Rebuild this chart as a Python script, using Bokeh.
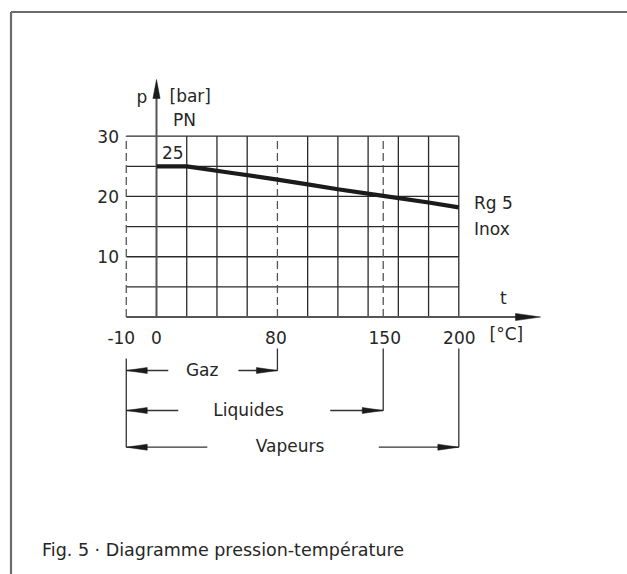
from bokeh.plotting import figure
from bokeh.models import Range1d
from bokeh.core.properties import value
from bokeh.embed import file_html
from bokeh.resources import INLINE

# ---------------- data ----------------
temp = [0, 20, 50, 80, 100, 120, 150, 180, 200]            # t [°C]
pressure = [25, 25, 23.9, 22.8, 22.0, 21.2, 20.1, 19.0, 18.2]  # p [bar]
grid_t_solid = [20, 40, 60, 100, 120, 140, 160, 180, 200]
grid_t_dashed = [-20, 80, 150]      # leftmost dashed line carries the "-10" label (axis not to scale there)
grid_p = [5, 10, 15, 20, 25, 30]
x_tick_pos = [-20, 0, 80, 150, 200]
x_tick_labels = ["-10", "0", "80", "150", "200"]
y_tick_pos = [10, 20, 30]
y_tick_labels = ["10", "20", "30"]
range_names = ["Gaz", "Liquides", "Vapeurs"]
range_start = [-20, -20, -20]
range_end = [80, 150, 200]
title_text = "Diagramme pression-température"
caption_text = "Fig. 5 · Diagramme pression-température"

# ---------------- layout (picture pixels -> data) ----------------
W, H = 627, 574
X0, SX = 156.0, 1.5115
Y0, SY = 316.5, 6.027
def tx(px):
    return (px - X0) / SX
def ty(pp):
    return (Y0 - pp) / SY
def dx(n):
    return n / SX
def dy(n):
    return n / SY

FONT = value("DejaVu Sans")
FS = "17px"
TXT = "#262626"

p = figure(width=W, height=H, x_range=Range1d(tx(0), tx(W)),
           y_range=Range1d(ty(H), ty(0)), output_backend="svg",
           toolbar_location=None, x_axis_type=None, y_axis_type=None,
           min_border=0, outline_line_color=None, background_fill_color="white",
           border_fill_color="white")
p.grid.visible = False

# frame
p.segment(x0=[tx(10.5), tx(10.5)], y0=[ty(11.5), ty(11.5)], x1=[tx(700), tx(10.5)],
          y1=[ty(11.5), ty(700)], line_color="#6b6b6b", line_width=2.2)

# heading cut off by the top edge (only its lowest pixels are visible)
p.text(x=[tx(7)], y=[ty(4)], y_offset=-12.8, text=[title_text], text_font=FONT,
       text_font_size="16px", text_font_style="bold", text_align="left",
       text_baseline="middle", text_color="#222222")

# grid
gmin, gmax = min(grid_t_dashed + grid_t_solid), max(grid_t_solid)
p.segment(x0=[gmin] * len(grid_p), x1=[gmax] * len(grid_p), y0=grid_p, y1=grid_p,
          line_color="#2a2a2a", line_width=1.3)
p.segment(x0=grid_t_solid, x1=grid_t_solid, y0=[0] * len(grid_t_solid),
          y1=[max(grid_p)] * len(grid_t_solid), line_color="#2a2a2a", line_width=1.3)
p.segment(x0=grid_t_dashed, x1=grid_t_dashed, y0=[0] * len(grid_t_dashed),
          y1=[max(grid_p)] * len(grid_t_dashed), line_color="#555555", line_width=1.3,
          line_dash="8 4")

# axes
y_tip = ty(79)
x_tip = tx(540)
p.segment(x0=[0, gmin], y0=[0, 0], x1=[0, x_tip - dx(20)], y1=[y_tip - dy(15), 0],
          line_color="#555555", line_width=2)

def head(xt, yt, direction, length, half):
    if direction == "up":
        return [xt, xt - dx(half), xt + dx(half)], [yt, yt - dy(length), yt - dy(length)]
    if direction == "right":
        return [xt, xt - dx(length), xt - dx(length)], [yt, yt + dy(half), yt - dy(half)]
    return [xt, xt + dx(length), xt + dx(length)], [yt, yt + dy(half), yt - dy(half)]

hx, hy = [], []
a, b = head(0, y_tip, "up", 19, 3.6); hx.append(a); hy.append(b)
a, b = head(x_tip, 0, "right", 25, 3.6); hx.append(a); hy.append(b)

# curve
p.line(temp, pressure, line_color="#1b1b1b", line_width=4.2)

# tick labels
p.text(x=[tx(118.5)] * len(y_tick_pos), y=y_tick_pos, text=y_tick_labels,
       text_font=FONT, text_font_size=FS, text_align="right", text_baseline="middle",
       text_color=TXT)
p.text(x=x_tick_pos, y=[ty(336.5)] * len(x_tick_pos), text=x_tick_labels,
       x_offset=[-5, 0, -1.5, 1.5, 0.5],
       text_font=FONT, text_font_size=FS, text_align="center", text_baseline="middle",
       text_color=TXT)

# axis titles and annotations
p.text(x=[tx(136), tx(169), tx(172.5), tx(161.5), tx(499.5), tx(489), tx(473.5), tx(473.5)],
       y=[ty(96), ty(95), ty(119.5), ty(151.5), ty(297), ty(333.3), ty(202), ty(228)],
       text=["p", "[bar]", "PN", "25", "t", "[°C]", "Rg 5", "Inox"],
       text_font=FONT, text_font_size=FS, text_align="left", text_baseline="middle",
       text_color=TXT)

# range dimension lines
row_y = [ty(370), ty(410), ty(446.7)]
text_cx = [201.7, 248.0, 289.5]
left_len = [42, 52, 81]
right_len = [39, 53, 80]
top_ext = ty(348)
seg_x0, seg_x1, seg_y0, seg_y1 = [], [], [], []
for i in range(len(range_names)):
    s, e, yy = range_start[i], range_end[i], row_y[i]
    seg_x0 += [s, e - dx(right_len[i]), e]
    seg_x1 += [s + dx(left_len[i]), e, e]
    seg_y0 += [yy, yy, top_ext]
    seg_y1 += [yy, yy, yy]
    a, b = head(s, yy, "left", 21, 3); hx.append(a); hy.append(b)
    a, b = head(e, yy, "right", 21, 3); hx.append(a); hy.append(b)
seg_x0.append(min(range_start)); seg_x1.append(min(range_start))
seg_y0.append(ty(358)); seg_y1.append(row_y[-1])
p.segment(x0=seg_x0, y0=seg_y0, x1=seg_x1, y1=seg_y1, line_color="#333333", line_width=1.3)
p.patches(hx, hy, fill_color="#1b1b1b", line_color="#1b1b1b", line_width=0.5)

p.text(x=[tx(c) for c in text_cx], y=[yy + dy(1) for yy in row_y], text=range_names,
       text_font=FONT, text_font_size=FS, text_align="center", text_baseline="middle",
       text_color=TXT)

# caption
p.text(x=[tx(41.5)], y=[ty(549)], text=[caption_text],
       text_font=FONT, text_font_size="17.5px", text_align="left", text_baseline="middle",
       text_color=TXT)

open("out.html", "w").write(file_html(p, INLINE))
